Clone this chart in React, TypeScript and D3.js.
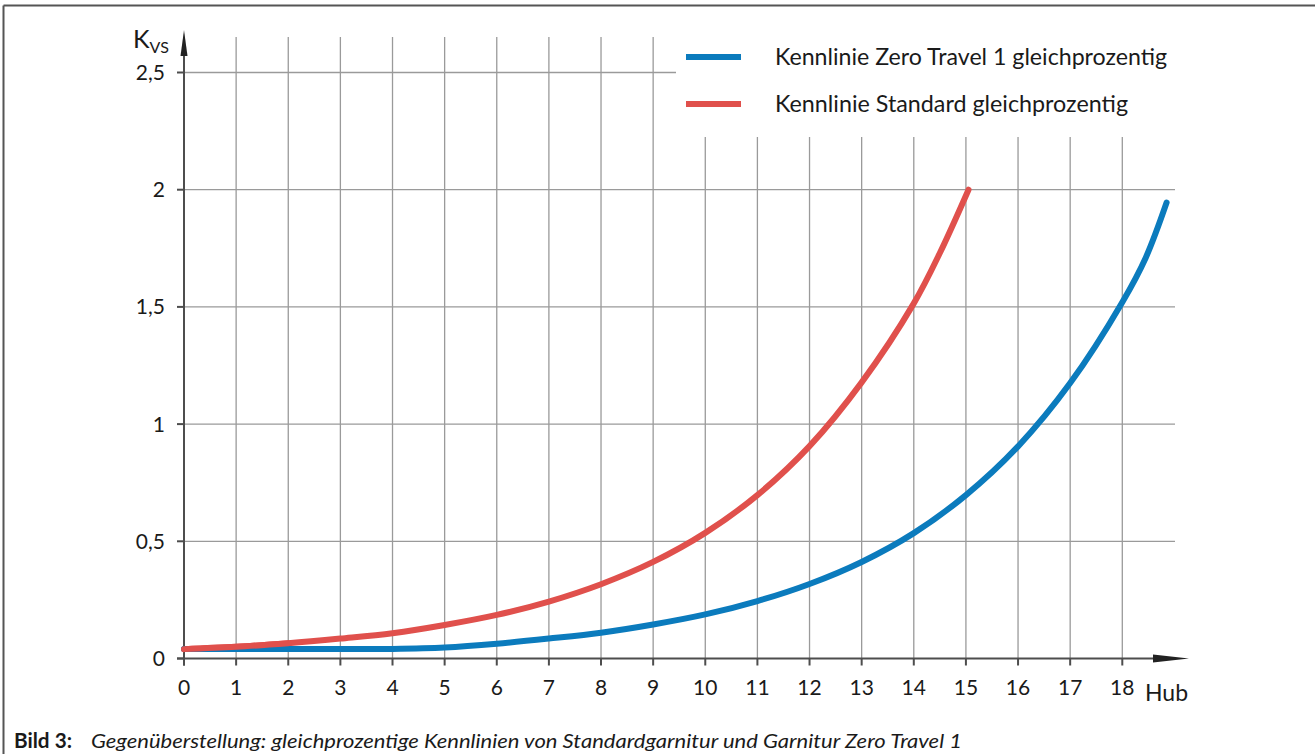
import React from "react";
import * as d3 from "d3";

// ---- data ----
const xTicks = [0, 1, 2, 3, 4, 5, 6, 7, 8, 9, 10, 11, 12, 13, 14, 15, 16, 17, 18];
const yTicks = [0, 0.5, 1, 1.5, 2, 2.5];
const yTickLabels = ["0", "0,5", "1", "1,5", "2", "2,5"];

const standardHub = [0, 1, 2, 3, 4, 5, 6, 7, 8, 9, 10, 11, 12, 13, 14, 14.5, 15.05];
const standardKvs = [0.04, 0.05, 0.065, 0.085, 0.108, 0.143, 0.186, 0.243, 0.317, 0.412, 0.536, 0.697, 0.906, 1.178, 1.515, 1.73, 2.0];

const zeroTravelHub = [0, 1, 2, 3, 4, 5, 6, 7, 8, 9, 10, 11, 12, 13, 14, 15, 16, 17, 18, 18.45, 18.85];
const zeroTravelKvs = [0.04, 0.04, 0.04, 0.04, 0.041, 0.047, 0.063, 0.085, 0.11, 0.145, 0.188, 0.245, 0.318, 0.412, 0.535, 0.697, 0.905, 1.175, 1.52, 1.71, 1.945];

const legendLabels = ["Kennlinie Zero Travel 1 gleichprozentig", "Kennlinie Standard gleichprozentig"];
const captionBold = "Bild 3:";
const captionText = "Gegenüberstellung: gleichprozentige Kennlinien von Standardgarnitur und Garnitur Zero Travel 1";

const BLUE = "#0b7bbd";
const RED = "#e0504c";
const AXIS = "#4d4d4d";
const GRID = "#9a9a9a";
const FONT = "Lato, 'Open Sans', sans-serif";

export default function App() {
  const W = 1315, H = 754;
  const x = d3.scaleLinear().domain([0, 18]).range([184, 1122.3]);
  const y = d3.scaleLinear().domain([0, 2.5]).range([658.5, 72.5]);
  const legendCutX = 676;
  const legendCutY = 137;

  const line = d3
    .line<[number, number]>()
    .x((d) => x(d[0]))
    .y((d) => y(d[1]))
    .curve(d3.curveCatmullRom.alpha(0.5));

  const redPts = standardHub.map((h, i) => [h, standardKvs[i]] as [number, number]);
  const bluePts = zeroTravelHub.map((h, i) => [h, zeroTravelKvs[i]] as [number, number]);

  const y0 = y(0);
  const x0 = x(0);

  return (
    <svg
      width={W}
      height={H}
      style={{ position: "absolute", left: 0, top: 0, background: "#fff" }}
      fontFamily={FONT}
    >
      <rect x={0} y={0} width={W} height={H} fill="#fff" />
      {/* frame */}
      <line x1={3.5} y1={5.5} x2={W} y2={5.5} stroke="#555" strokeWidth={2} />
      <line x1={3.5} y1={5.5} x2={3.5} y2={H} stroke="#555" strokeWidth={2} />

      {/* vertical grid */}
      {xTicks.filter((t) => t > 0).map((t) => {
        const px = x(t);
        const top = px > legendCutX ? legendCutY : 37;
        return <line key={"vg" + t} x1={px} x2={px} y1={y0} y2={top} stroke={GRID} strokeWidth={1.3} />;
      })}
      {/* horizontal grid */}
      {yTicks.filter((t) => t > 0).map((t) => {
        const py = y(t);
        const right = py < legendCutY ? legendCutX : 1175;
        return <line key={"hg" + t} x1={x0} x2={right} y1={py} y2={py} stroke={GRID} strokeWidth={1.3} />;
      })}

      {/* y ticks */}
      {yTicks.map((t, i) => (
        <g key={"yt" + t}>
          <line x1={177} x2={x0} y1={y(t)} y2={y(t)} stroke={AXIS} strokeWidth={2} />
          <text x={165} y={y(t)} dy="0.36em" textAnchor="end" fontSize={21} fill="#1a1a1a">
            {yTickLabels[i]}
          </text>
        </g>
      ))}
      {/* x ticks */}
      {xTicks.map((t) => (
        <g key={"xt" + t}>
          <line x1={x(t)} x2={x(t)} y1={y0} y2={y0 + 7} stroke={AXIS} strokeWidth={2} />
          <text x={x(t)} y={695} textAnchor="middle" fontSize={21} fill="#1a1a1a">
            {t}
          </text>
        </g>
      ))}

      {/* axes */}
      <line x1={x0} x2={x0} y1={y0 + 7} y2={50} stroke={AXIS} strokeWidth={2} />
      <path d={`M${x0},30 L${x0 - 3.5},56 L${x0 + 3.5},56 Z`} fill="#222" />
      <line x1={177} x2={1160} y1={y0} y2={y0} stroke={AXIS} strokeWidth={2} />
      <path d={`M1189,${y0} L1153,${y0 - 4} L1153,${y0 + 4} Z`} fill="#222" />

      {/* axis labels */}
      <text x={133} y={48} fontSize={25} fill="#1a1a1a">
        K<tspan fontSize={16} dy={5}>VS</tspan>
      </text>
      <text x={1145} y={701} fontSize={23} fill="#1a1a1a">Hub</text>

      {/* curves */}
      <path d={line(redPts) || ""} fill="none" stroke={RED} strokeWidth={6} strokeLinecap="round" />
      <path d={line(bluePts) || ""} fill="none" stroke={BLUE} strokeWidth={6} strokeLinecap="round" />
      <path d={line(redPts.slice(0, 3)) || ""} fill="none" stroke={RED} strokeWidth={6} strokeLinecap="round" />

      {/* legend */}
      <line x1={686} x2={741} y1={57} y2={57} stroke={BLUE} strokeWidth={6} />
      <line x1={686} x2={741} y1={104} y2={104} stroke={RED} strokeWidth={6} />
      <text x={775} y={57} dy="0.35em" fontSize={23} fill="#1a1a1a" textLength={392} lengthAdjust="spacingAndGlyphs">
        {legendLabels[0]}
      </text>
      <text x={775} y={104} dy="0.35em" fontSize={23} fill="#1a1a1a" textLength={353} lengthAdjust="spacingAndGlyphs">
        {legendLabels[1]}
      </text>

      {/* caption */}
      <text x={14} y={748} fontSize={20} fontWeight="bold" fill="#1a1a1a" textLength={58} lengthAdjust="spacingAndGlyphs">
        {captionBold}
      </text>
      <text x={91} y={748} fontSize={20} fontStyle="italic" fill="#1a1a1a" textLength={871} lengthAdjust="spacingAndGlyphs">
        {captionText}
      </text>
    </svg>
  );
}
